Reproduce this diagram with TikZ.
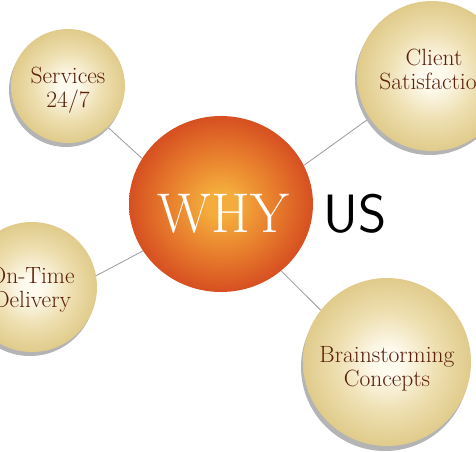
\documentclass[tikz,border=0pt]{standalone}
\usetikzlibrary{shapes.geometric,backgrounds}
\definecolor{bubgold}{HTML}{E0CB8B}
\definecolor{bubmid}{HTML}{EEDFB0}
\definecolor{bubcream}{HTML}{FEFAEE}
\definecolor{orlight}{HTML}{F4AC3C}
\definecolor{ormid}{HTML}{E77B2C}
\definecolor{ordark}{HTML}{D64F21}
\definecolor{shadowgray}{HTML}{B4B4B4}
\definecolor{linegray}{HTML}{9A9A9A}
\definecolor{textbrown}{HTML}{5A200C}
\pgfdeclareradialshading{bubshade}{\pgfpoint{0bp}{0bp}}{color(0bp)=(bubcream); color(4bp)=(bubcream); color(15bp)=(bubmid); color(25bp)=(bubgold); color(50bp)=(bubgold)}
\pgfdeclareradialshading{orangeshade}{\pgfpoint{0bp}{0bp}}{color(0bp)=(orlight); color(4bp)=(orlight); color(15bp)=(ormid); color(25bp)=(ordark); color(50bp)=(ordark)}
\tikzset{
  bubble/.style={circle, minimum size=#1, inner sep=0pt, shading=bubshade},
  bshadow/.style={fill=shadowgray},
  btext/.style={text=textbrown, align=center, inner sep=0pt, font=\fontsize{23.5}{24}\selectfont},
  link/.style={draw=linegray, line width=0.8pt},
  bigtext/.style={inner sep=0pt, anchor=base, font=\fontsize{56}{60}\selectfont}
}
\begin{document}
\begin{tikzpicture}[x=1pt,y=-1pt]
\useasboundingbox (0,0) rectangle (476,451);
\clip (0,0) rectangle (476,451);
% shadows
\fill[bshadow] (66,90) circle (57pt);
\fill[bshadow] (430,80) circle (75pt);
\fill[bshadow] (30,291) circle (65pt);
\fill[bshadow] (385,367) circle (84pt);
% bubbles
\node[bubble=114pt] (serv) at (68,86) {};
\node[bubble=150pt] (client) at (432,76) {};
\node[bubble=130pt] (ontime) at (32,287) {};
\node[bubble=168pt] (brain) at (387,362) {};
\node[ellipse, minimum width=184pt, minimum height=176pt, inner sep=0pt, shading=orangeshade] (why) at (221,204) {};
% texts
\node[btext] (servt) at (68,90) {Services\\24/7};
\node[btext] (clientt) at (434,69) {Client\\Satisfaction};
\node[btext] (ontimet) at (32,290) {On-Time\\Delivery};
\node[btext] (braint) at (387,369) {Brainstorming\\Concepts};
\node[bigtext, text=white] (whyt) at (223.5,232) {WHY};
\node[bigtext, text=black, font=\fontsize{54}{60}\sffamily] (ust) at (355,232) {US};
% connectors
\begin{pgfonlayer}{background}
\draw[link] (serv.-46) -- (why.150);
\draw[link] (client.214) -- (why.25);
\draw[link] (ontime.10) -- (why.211);
\draw[link] (brain.142) -- (why.-48);
\end{pgfonlayer}
\end{tikzpicture}
\end{document}
